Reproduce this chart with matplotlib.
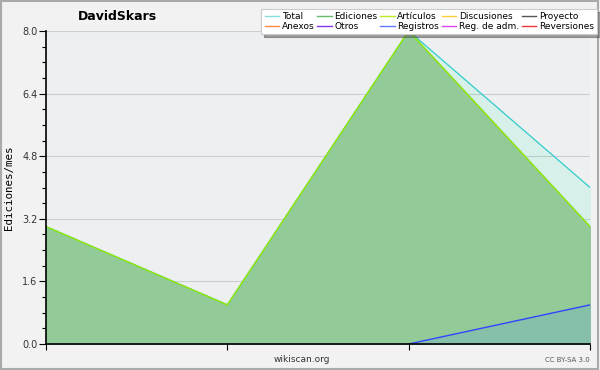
import matplotlib
matplotlib.use("Agg")
import matplotlib.pyplot as plt
from matplotlib.patches import Rectangle

months = [0, 1, 2, 3]
total = [3, 1, 8, 4]
ediciones = [3, 1, 8, 3]
articulos = [3, 1, 8, 3]
registros = [0, 0, 0, 1]

legend_labels = ["Total", "Ediciones", "Artículos", "Discusiones", "Proyecto",
                 "Anexos", "Otros", "Registros", "Reg. de adm.", "Reversiones"]
legend_colors = ["#88dddd", "#66bb66", "#bbee22", "#ffcc33", "#555555",
                 "#ff8844", "#8833ee", "#6677ff", "#dd44ee", "#ee3333"]
yticks = [0.0, 1.6, 3.2, 4.8, 6.4, 8.0]

fig = plt.figure(figsize=(6, 3.7), dpi=100)
fig.patch.set_facecolor("#f2f2f2")
fig.add_artist(Rectangle((0.002, 0.004), 0.994, 0.994, transform=fig.transFigure,
                         fill=False, edgecolor="#aaaaaa", linewidth=1.5))

ax = fig.add_axes([46/600, 1-344/370, 544/600, 313/370])
ax.set_facecolor("#eeeff1")

ax.fill_between(months, 0, total, color="#d8f0ea", zorder=1)
ax.plot(months, total, color="#33cccc", linewidth=0.9, zorder=4)
ax.fill_between(months, 0, ediciones, color="#92cb98", zorder=2)
ax.plot(months, ediciones, color="#66bb66", linewidth=0.9, zorder=4)
ax.plot(months, articulos, color="#99ee00", linewidth=0.9, zorder=5)
ax.fill_between(months, 0, registros, color="#86c0a8", zorder=3)
ax.plot(months[2:], registros[2:], color="#3344ff", linewidth=1.0, zorder=6)

ax.set_xlim(0, 3)
ax.set_ylim(0, 8)
ax.set_yticks(yticks)
ax.set_yticklabels([f"{v:.1f}" for v in yticks], fontsize=7, color="#333333")
ax.set_yticks([i * 0.4 for i in range(21)], minor=True)
ax.set_xticks(months)
ax.set_xticklabels([])
ax.tick_params(axis="y", which="major", length=5, width=0.8, pad=1)
ax.tick_params(axis="y", which="minor", length=3, width=0.8)
ax.tick_params(axis="x", length=4, width=0.8, direction="out")
ax.grid(axis="y", color="#000000", alpha=0.14, linewidth=0.8, zorder=3.5)
for s in ["top", "right"]:
    ax.spines[s].set_visible(False)
for s in ["left", "bottom"]:
    ax.spines[s].set_linewidth(1.2)
    ax.spines[s].set_zorder(10)
ax.set_ylabel("Ediciones/mes", fontsize=7.8, family="DejaVu Sans Mono", labelpad=6)

fig.text(117/600, 1-17/370, "DavidSkars", fontsize=9, fontweight="bold",
         ha="center", va="center")
fig.text(302/600, 1-359/370, "wikiscan.org", fontsize=6.5, ha="center",
         va="center", color="#333333")
fig.text(590/600, 1-360/370, "CC BY-SA 3.0", fontsize=5, ha="right",
         va="center", color="#555555")

handles = [plt.Line2D([], [], color=c, linewidth=1) for c in legend_colors]
order = [0, 5, 1, 6, 2, 7, 3, 8, 4, 9]
leg = fig.legend([handles[i] for i in order], [legend_labels[i] for i in order],
                 ncol=5, loc="upper right", bbox_to_anchor=(597/600, 1-9/370),
                 fontsize=6.5, frameon=True, fancybox=False, shadow=True,
                 handlelength=1.6, handletextpad=0.3, columnspacing=0.3,
                 labelspacing=0.1, borderpad=0.35, borderaxespad=0)
leg.get_frame().set_edgecolor("#cccccc")
leg.get_frame().set_linewidth(0.8)

fig.savefig("out.png", dpi=100, facecolor=fig.get_facecolor())
